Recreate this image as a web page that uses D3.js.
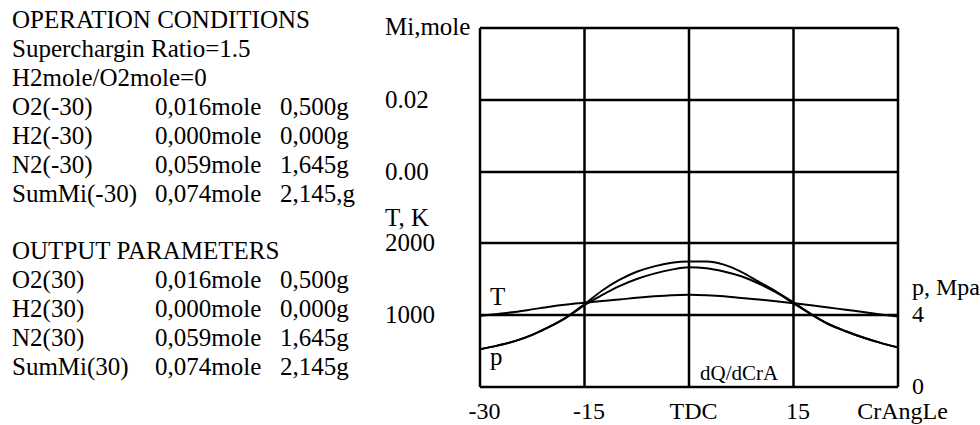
<!DOCTYPE html>
<html>
<head>
<meta charset="utf-8">
<script src="https://cdn.jsdelivr.net/npm/d3@7/dist/d3.min.js"></script>
<style>
  body { margin: 0; background: #fff; }
  text { font-family: "Liberation Serif", "Times New Roman", serif; fill: #000; }
</style>
</head>
<body>
<div id="chart"></div>
<script>
// left text panel
var condLines = [
  ["OPERATION CONDITIONS", "", ""],
  ["Superchargin Ratio=1.5", "", ""],
  ["H2mole/O2mole=0", "", ""],
  ["O2(-30)", "0,016mole", "0,500g"],
  ["H2(-30)", "0,000mole", "0,000g"],
  ["N2(-30)", "0,059mole", "1,645g"],
  ["SumMi(-30)", "0,074mole", "2,145,g"]
];
var outLines = [
  ["OUTPUT PARAMETERS", "", ""],
  ["O2(30)", "0,016mole", "0,500g"],
  ["H2(30)", "0,000mole", "0,000g"],
  ["N2(30)", "0,059mole", "1,645g"],
  ["SumMi(30)", "0,074mole", "2,145g"]
];

// crank angle axis
var xTicks = [-30, -15, 0, 15, 30];
var xTickLabels = ["-30", "-15", "TDC", "15", "CrAngLe"];
var miTicks = [0.02, 0.00];
var tTicks = [2000, 1000];
var pTicks = [4, 0];

// curves
var angle = [-30, -27.5, -25, -22.5, -20, -17.5, -15, -12.5, -10, -7.5, -5, -2.5, 0,
             2.5, 5, 7.5, 10, 12.5, 15, 17.5, 20, 22.5, 25, 27.5, 30];
var tempK = [990, 1015, 1042, 1078, 1115, 1145, 1170, 1195, 1215, 1240, 1260, 1275, 1280,
             1275, 1262, 1237, 1215, 1190, 1163, 1135, 1105, 1072, 1042, 1008, 978];
var pA = [2.1, 2.3, 2.55, 2.9, 3.35, 3.9, 4.6, 5.35, 5.95, 6.4, 6.7, 6.9, 6.97,
          6.97, 6.8, 6.4, 5.85, 5.3, 4.7, 4.05, 3.5, 3.1, 2.75, 2.45, 2.2];
var pB = [2.1, 2.3, 2.55, 2.9, 3.35, 3.88, 4.55, 5.1, 5.6, 6.0, 6.3, 6.52, 6.65,
          6.6, 6.42, 6.15, 5.75, 5.25, 4.65, 4.05, 3.5, 3.1, 2.75, 2.45, 2.2];

var W = 980, H = 425;
var svg = d3.select("#chart").append("svg")
  .attr("width", W).attr("height", H);

var x = d3.scaleLinear().domain([-30, 30]).range([480, 898]);
var yMi = d3.scaleLinear().domain([0, 0.02]).range([172, 100]);
var yT = d3.scaleLinear().domain([0, 2000]).range([387, 243]);
var yP = d3.scaleLinear().domain([0, 4]).range([387, 315]);

var fs = 25;

// text panel
function block(lines, y0) {
  var g = svg.append("g");
  lines.forEach(function (l, i) {
    var yy = y0 + i * 29;
    g.append("text").attr("x", 12).attr("y", yy).style("font-size", fs + "px").text(l[0]);
    if (l[1]) g.append("text").attr("x", 155).attr("y", yy).style("font-size", fs + "px").text(l[1]);
    if (l[2]) g.append("text").attr("x", 280).attr("y", yy).style("font-size", fs + "px").text(l[2]);
  });
}
block(condLines, 28);
block(outLines, 259);

// grid
var grid = svg.append("g")
  .attr("stroke", "#000").attr("stroke-width", 2.5).attr("fill", "none");
xTicks.forEach(function (d) {
  grid.append("line").attr("x1", x(d)).attr("x2", x(d)).attr("y1", 28).attr("y2", yT(0));
});
[0.04, 0.02, 0.00].forEach(function (d) {
  grid.append("line").attr("x1", x(-30)).attr("x2", x(30)).attr("y1", yMi(d)).attr("y2", yMi(d));
});
[2000, 1000, 0].forEach(function (d) {
  grid.append("line").attr("x1", x(-30)).attr("x2", x(30)).attr("y1", yT(d)).attr("y2", yT(d));
});

// curves
var rows = angle.map(function (a, i) { return { a: a, t: tempK[i], pa: pA[i], pb: pB[i] }; });
function curve(acc, sc) {
  return d3.line().x(function (d) { return x(d.a); }).y(function (d) { return sc(acc(d)); })
    .curve(d3.curveMonotoneX);
}
var cg = svg.append("g").attr("fill", "none").attr("stroke", "#000").attr("stroke-width", 2);
cg.append("path").datum(rows).attr("d", curve(function (d) { return d.t; }, yT));
cg.append("path").datum(rows).attr("d", curve(function (d) { return d.pa; }, yP));
cg.append("path").datum(rows).attr("d", curve(function (d) { return d.pb; }, yP));

// x axis labels
var xAxis = d3.axisBottom(x).tickValues(xTicks)
  .tickFormat(function (d, i) { return xTickLabels[i]; }).tickSize(0);
var gx = svg.append("g").attr("transform", "translate(4,0)").call(xAxis);
gx.select(".domain").remove();
gx.selectAll("text").attr("y", 419).attr("dy", null)
  .style("font-size", "24px").style("font-family", "Liberation Serif");

// left axis labels
svg.append("text").attr("x", 385).attr("y", 35).style("font-size", fs + "px").text("Mi,mole");
miTicks.forEach(function (d) {
  svg.append("text").attr("x", 385).attr("y", yMi(d) + 8).style("font-size", fs + "px").text(d3.format(".2f")(d));
});
svg.append("text").attr("x", 385).attr("y", 226).style("font-size", fs + "px").text("T, K");
tTicks.forEach(function (d) {
  svg.append("text").attr("x", 385).attr("y", yT(d) + 8).style("font-size", fs + "px").text(d);
});

// right axis labels
svg.append("text").attr("x", 912).attr("y", 295).style("font-size", "24px").text("p, Mpa");
pTicks.forEach(function (d) {
  svg.append("text").attr("x", 912).attr("y", yP(d) + 7).style("font-size", "24px").text(d);
});

// curve labels
svg.append("text").attr("x", 490).attr("y", 305).style("font-size", fs + "px").text("T");
svg.append("text").attr("x", 490).attr("y", 365).style("font-size", fs + "px").text("p");
svg.append("text").attr("x", 700).attr("y", 380).style("font-size", "21px").text("dQ/dCrA");
</script>
</body>
</html>
